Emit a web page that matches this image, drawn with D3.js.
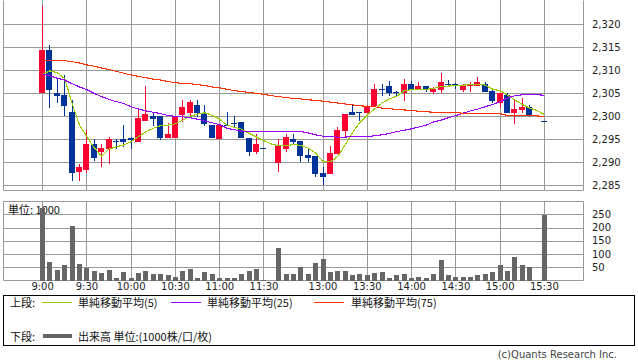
<!DOCTYPE html>
<html>
<head>
<meta charset="utf-8">
<script src="https://cdn.jsdelivr.net/npm/d3@7"></script>
<style>
  body { margin: 0; background: #fff; }
  svg { display: block; }
  text { font-family: "DejaVu Sans", sans-serif; fill: #222; }
  .jp { font-family: "Noto Sans CJK JP", sans-serif; font-size: 11px; fill: #111; }
  .axis text { font-size: 10px; }
  .axis path, .axis line { display: none; }
</style>
</head>
<body>
<svg id="chart" width="638" height="362"></svg>
<script>
/* global d3 */
const PLOT_LEFT = 3;
const PLOT_RIGHT = 583;
const PRICE_BOX = { top: 0, bottom: 190 };
const VOL_BOX = { top: 201, bottom: 280.5 };
const GRID = '#999';
const UP = '#ff0033';
const DOWN = '#003399';

// 5-minute slots: morning 9:00-11:30, one empty slot, afternoon 12:30-15:30
function hm(m) { return Math.floor(m / 60) + ':' + String(m % 60).padStart(2, '0'); }
const slots = d3.range(0, 31).map(i => hm(540 + i * 5))
  .concat(['gap'])
  .concat(d3.range(0, 37).map(i => hm(750 + i * 5)));

const xTicks = ['9:00', '9:30', '10:00', '10:30', '11:00', '11:30', '13:00', '13:30', '14:00', '14:30', '15:00', '15:30'];
const priceTicks = [2285, 2290, 2295, 2300, 2305, 2310, 2315, 2320];
const volTicks = [50, 100, 150, 200, 250];

const open = [2305.0, 2314.3, 2305.0, 2304.6, 2300.9, 2287.9, 2288.3, 2293.9, 2292.2, 2292.9,
  2294.6, 2295.0, 2295.1, 2294.4, 2298.8, 2300.0, 2300.0, 2295.3, 2295.3, 2300.2,
  2300.7, 2302.4, 2300.4, 2298.0, 2294.9, 2298.0, 2298.4, 2298.6, 2295.1, 2292.2,
  2293.0, null, 2289.8, 2292.9, 2295.0, 2294.6, 2291.5, 2291.2, 2287.7, 2287.4,
  2291.7, 2296.8, 2300.9, 2300.9, 2300.7, 2302.2, 2305.9, 2306.5, 2305.1, 2304.9,
  2307.0, 2305.8, 2306.4, 2305.1, 2305.7, 2307.0, 2307.0, 2305.7, 2306.4, 2306.4,
  2307.0, 2305.4, 2302.9, 2304.6, 2300.7, 2301.3, 2302.0, null, 2298.9];
const high = [2323.9, 2315.4, 2308.0, 2308.9, 2303.5, 2289.6, 2297.0, 2295.0, 2293.9, 2295.5,
  2295.0, 2298.0, 2295.5, 2301.3, 2306.5, 2300.6, 2300.0, 2298.4, 2300.0, 2303.5,
  2303.5, 2303.5, 2302.4, 2298.0, 2298.0, 2300.9, 2300.0, 2298.6, 2295.1, 2296.1,
  2293.0, null, 2294.9, 2296.0, 2296.0, 2294.6, 2293.1, 2291.2, 2288.8, 2293.5,
  2297.5, 2300.4, 2302.3, 2300.9, 2302.4, 2307.0, 2307.0, 2307.5, 2305.4, 2308.0,
  2307.6, 2307.3, 2306.5, 2306.3, 2309.3, 2307.8, 2307.2, 2306.9, 2307.4, 2308.5,
  2307.4, 2305.7, 2304.9, 2305.0, 2303.5, 2303.8, 2302.4, null, 2298.9];
const low = [2304.9, 2301.8, 2302.9, 2299.9, 2285.9, 2285.9, 2287.5, 2290.3, 2288.8, 2289.5,
  2292.9, 2293.3, 2292.9, 2294.4, 2298.8, 2297.8, 2294.8, 2295.3, 2295.3, 2298.7,
  2299.9, 2299.7, 2297.8, 2295.3, 2294.9, 2297.8, 2297.7, 2295.2, 2291.3, 2291.7,
  2293.0, null, 2287.8, 2292.2, 2293.9, 2289.9, 2290.0, 2286.7, 2284.9, 2287.4,
  2291.7, 2295.4, 2300.3, 2298.8, 2300.7, 2302.2, 2304.4, 2304.4, 2304.2, 2303.3,
  2305.7, 2305.8, 2305.3, 2304.8, 2304.9, 2306.6, 2305.8, 2305.3, 2305.3, 2306.4,
  2305.3, 2302.8, 2301.8, 2300.7, 2298.3, 2300.7, 2299.8, null, 2298.9];
const close = [2314.3, 2305.7, 2304.4, 2302.2, 2287.5, 2288.9, 2293.9, 2290.9, 2293.0, 2295.0,
  2294.5, 2294.4, 2294.7, 2299.6, 2300.4, 2299.4, 2295.3, 2296.1, 2300.0, 2302.0,
  2303.0, 2300.7, 2298.3, 2295.3, 2298.0, 2297.9, 2298.3, 2295.2, 2292.2, 2293.9,
  2293.0, null, 2293.4, 2295.4, 2294.4, 2291.3, 2290.9, 2287.4, 2286.8, 2292.0,
  2297.0, 2300.4, 2300.3, 2300.7, 2301.9, 2305.9, 2305.7, 2304.9, 2304.9, 2307.0,
  2305.7, 2306.5, 2305.8, 2305.8, 2307.3, 2306.9, 2306.5, 2306.6, 2307.0, 2307.4,
  2305.3, 2303.3, 2304.9, 2300.7, 2301.5, 2302.0, 2300.2, null, 2298.9];
const volume = [275, 69, 38, 57, 206, 61, 47, 34, 27, 41,
  8, 31, 11, 27, 34, 23, 23, 19, 15, 34,
  42, 11, 31, 23, 9, 11, 11, 23, 34, 42,
  1, null, 122, 23, 23, 50, 23, 65, 80, 31,
  34, 34, 19, 23, 19, 27, 31, 11, 19, 23,
  8, 15, 8, 23, 76, 19, 15, 15, 15, 19,
  23, 31, 57, 36, 89, 59, 51, null, 247];
const ma5 = [2309.1, 2309.8, 2309.4, 2308.1, 2302.7, 2298.0, 2295.5, 2293.1, 2291.2, 2292.8,
  2293.3, 2293.7, 2294.4, 2295.5, 2296.6, 2297.3, 2297.9, 2298.0, 2298.3, 2299.1,
  2299.9, 2300.4, 2300.7, 2300.1, 2299.3, 2298.0, 2297.5, 2297.1, 2296.2, 2295.4,
  2294.6, 2293.9, 2293.5, 2293.5, 2293.8, 2293.6, 2293.0, 2291.9, 2290.1, 2290.0,
  2291.2, 2293.7, 2296.4, 2298.6, 2300.2, 2301.5, 2302.8, 2303.7, 2304.3, 2305.5,
  2305.7, 2305.7, 2305.8, 2306.0, 2306.4, 2306.5, 2306.6, 2306.7, 2306.8, 2306.9,
  2306.7, 2305.8, 2305.5, 2304.5, 2303.5, 2302.5, 2301.7, 2301.2, 2300.3];
const ma25 = [2309.1, 2308.7, 2308.2, 2307.8, 2307.0, 2306.3, 2305.7, 2304.9, 2304.2, 2303.6,
  2303.1, 2302.7, 2302.0, 2301.5, 2301.1, 2300.8, 2300.5, 2300.1, 2299.9, 2299.8,
  2299.6, 2299.3, 2298.9, 2298.5, 2298.1, 2297.3, 2297.0, 2296.7, 2296.6, 2296.6,
  2296.6, 2296.6, 2296.6, 2296.6, 2296.6, 2296.6, 2296.3, 2295.9, 2295.6, 2295.5,
  2295.4, 2295.4, 2295.5, 2295.5, 2295.5, 2295.7, 2295.9, 2296.2, 2296.6, 2296.9,
  2297.2, 2297.6, 2298.0, 2298.7, 2299.1, 2299.6, 2300.1, 2300.6, 2301.1, 2301.5,
  2302.0, 2302.5, 2303.1, 2303.9, 2304.4, 2304.6, 2304.6, 2304.6, 2304.5];
const ma75 = [2312.1, 2312.1, 2312.1, 2312.0, 2311.8, 2311.5, 2311.1, 2310.8, 2310.4, 2310.1,
  2309.7, 2309.3, 2308.9, 2308.6, 2308.3, 2308.0, 2307.8, 2307.5, 2307.2, 2307.1,
  2307.0, 2306.8, 2306.6, 2306.3, 2306.1, 2305.8, 2305.5, 2305.3, 2305.1, 2304.9,
  2304.7, 2304.4, 2304.2, 2304.0, 2303.8, 2303.7, 2303.5, 2303.4, 2303.2, 2303.0,
  2302.8, 2302.6, 2302.4, 2302.2, 2302.1, 2302.0, 2301.7, 2301.6, 2301.4, 2301.3,
  2301.2, 2301.0, 2300.9, 2300.8, 2300.8, 2300.7, 2300.7, 2300.6, 2300.6, 2300.6,
  2300.5, 2300.5, 2300.5, 2300.1, 2300.1, 2300.0, 2300.0, 2300.0, 2299.9];

const maSeries = [
  { name: '単純移動平均(5)', values: ma5, color: '#99cc00', lx: 42, tx: 78 },
  { name: '単純移動平均(25)', values: ma25, color: '#9900ff', lx: 171, tx: 207 },
  { name: '単純移動平均(75)', values: ma75, color: '#ff3300', lx: 314, tx: 351 }
];

const bars = slots.map((t, i) => ({
  t, o: open[i], h: high[i], l: low[i], c: close[i], v: volume[i]
}));

const $svg = d3.select('#chart');

const x = d3.scalePoint().domain(slots).range([PLOT_LEFT, PLOT_RIGHT]).padding(5.3);
const y = d3.scaleLinear().domain([2283.9, 2325.2]).range([PRICE_BOX.bottom, PRICE_BOX.top]);
const yVol = d3.scaleLinear().domain([0, 300]).range([VOL_BOX.bottom, VOL_BOX.top]);
const px = v => Math.round(v) + 0.5;
const cx = t => Math.round(x(t));

//GRID
function drawGrid(top, bottom, scale, ticks, withTop) {
  const g = $svg.append('g').attr('class', 'grid')
    .attr('stroke', GRID).attr('stroke-width', 1).attr('fill', 'none');
  g.selectAll('line.h').data(ticks).enter().append('line')
    .attr('x1', PLOT_LEFT).attr('x2', PLOT_RIGHT)
    .attr('y1', d => px(scale(d))).attr('y2', d => px(scale(d)));
  g.selectAll('line.v').data(xTicks).enter().append('line')
    .attr('x1', d => cx(d) + 0.5).attr('x2', d => cx(d) + 0.5)
    .attr('y1', top).attr('y2', bottom);
  const edges = [[PLOT_LEFT, top, PLOT_LEFT, bottom], [PLOT_RIGHT, top, PLOT_RIGHT, bottom],
    [PLOT_LEFT, bottom, PLOT_RIGHT, bottom]];
  if (withTop) edges.push([PLOT_LEFT, top, PLOT_RIGHT, top]);
  g.selectAll('line.e').data(edges).enter().append('line')
    .attr('x1', d => px(d[0])).attr('y1', d => px(d[1]))
    .attr('x2', d => px(d[2])).attr('y2', d => px(d[3]));
}
drawGrid(PRICE_BOX.top, Math.round(PRICE_BOX.bottom), y, priceTicks, false);
drawGrid(Math.round(VOL_BOX.top), Math.round(VOL_BOX.bottom) - 1, yVol, volTicks, true);

//AXES
$svg.append('g').attr('class', 'axis')
  .attr('transform', `translate(${PLOT_RIGHT},0)`)
  .call(d3.axisRight(y).tickValues(priceTicks).tickFormat(d3.format(',')).tickSize(0).tickPadding(9));
$svg.append('g').attr('class', 'axis')
  .attr('transform', `translate(${PLOT_RIGHT},0)`)
  .call(d3.axisRight(yVol).tickValues(volTicks).tickSize(0).tickPadding(9));
$svg.append('g').attr('class', 'axis')
  .attr('transform', `translate(0,${Math.round(VOL_BOX.bottom)})`)
  .call(d3.axisBottom(x).tickValues(xTicks).tickSize(0).tickPadding(2));

//VOLUME
$svg.append('text').attr('class', 'jp').attr('x', 8).attr('y', 214).text('単位: 1000');

$svg.append('g').selectAll('rect')
  .data(bars.filter(d => d.v != null))
  .enter().append('rect')
  .attr('x', d => cx(d.t) - 2)
  .attr('width', 5)
  .attr('y', d => Math.max(Math.round(VOL_BOX.top), Math.round(yVol(d.v))))
  .attr('height', d => Math.max(1, Math.round(yVol(0)) - Math.max(Math.round(VOL_BOX.top), Math.round(yVol(d.v)))))
  .attr('fill', '#666');

//CANDLES
const $candle = $svg.append('g').selectAll('g')
  .data(bars.filter(d => d.o != null))
  .enter().append('g')
  .attr('fill', d => d.c > d.o ? UP : DOWN);

$candle.append('rect')
  .attr('x', d => cx(d.t))
  .attr('width', 1)
  .attr('y', d => Math.round(y(d.h)))
  .attr('height', d => Math.max(1, Math.round(y(d.l)) - Math.round(y(d.h))));

$candle.append('rect')
  .attr('x', d => cx(d.t) - 3)
  .attr('width', 6)
  .attr('y', d => Math.round(y(Math.max(d.o, d.c))))
  .attr('height', d => Math.max(1, Math.round(y(Math.min(d.o, d.c))) - Math.round(y(Math.max(d.o, d.c)))));

//MOVING AVERAGES
const line = d3.line()
  .defined(d => d[1] != null)
  .x(d => x(d[0]) + 0.5)
  .y(d => y(d[1]));

$svg.append('g').selectAll('path')
  .data(maSeries)
  .enter().append('path')
  .attr('d', s => line(slots.map((t, i) => [t, s.values[i]])))
  .attr('fill', 'none')
  .attr('stroke', s => s.color)
  .attr('stroke-width', 1.1)
  .attr('shape-rendering', 'crispEdges');

//LEGEND
const $legend = $svg.append('g');
$legend.append('rect')
  .attr('x', 3.5).attr('y', 295.5).attr('width', 631).attr('height', 50)
  .attr('fill', 'none').attr('stroke', '#000');

$legend.append('text').attr('class', 'jp').attr('x', 10).attr('y', 307).text('上段:');
$legend.selectAll('line.ma').data(maSeries).enter().append('line')
  .attr('x1', d => d.lx).attr('x2', d => d.lx + 30)
  .attr('y1', 302.5).attr('y2', 302.5)
  .attr('stroke', d => d.color);
$legend.selectAll('text.ma').data(maSeries).enter().append('text')
  .attr('class', 'jp').attr('x', d => d.tx).attr('y', 307).text(d => d.name);

$legend.append('text').attr('class', 'jp').attr('x', 10).attr('y', 341).text('下段:');
$legend.append('line')
  .attr('x1', 43).attr('x2', 72).attr('y1', 336).attr('y2', 336)
  .attr('stroke', '#666').attr('stroke-width', 4);
$legend.append('text').attr('class', 'jp').attr('x', 78).attr('y', 341).text('出来高 単位:(1000株/口/枚)');

$svg.append('text')
  .attr('x', 617).attr('y', 358)
  .attr('text-anchor', 'end')
  .style('font-size', '10px').style('fill', '#444')
  .text('(c)Quants Research Inc.');
</script>
</body>
</html>
